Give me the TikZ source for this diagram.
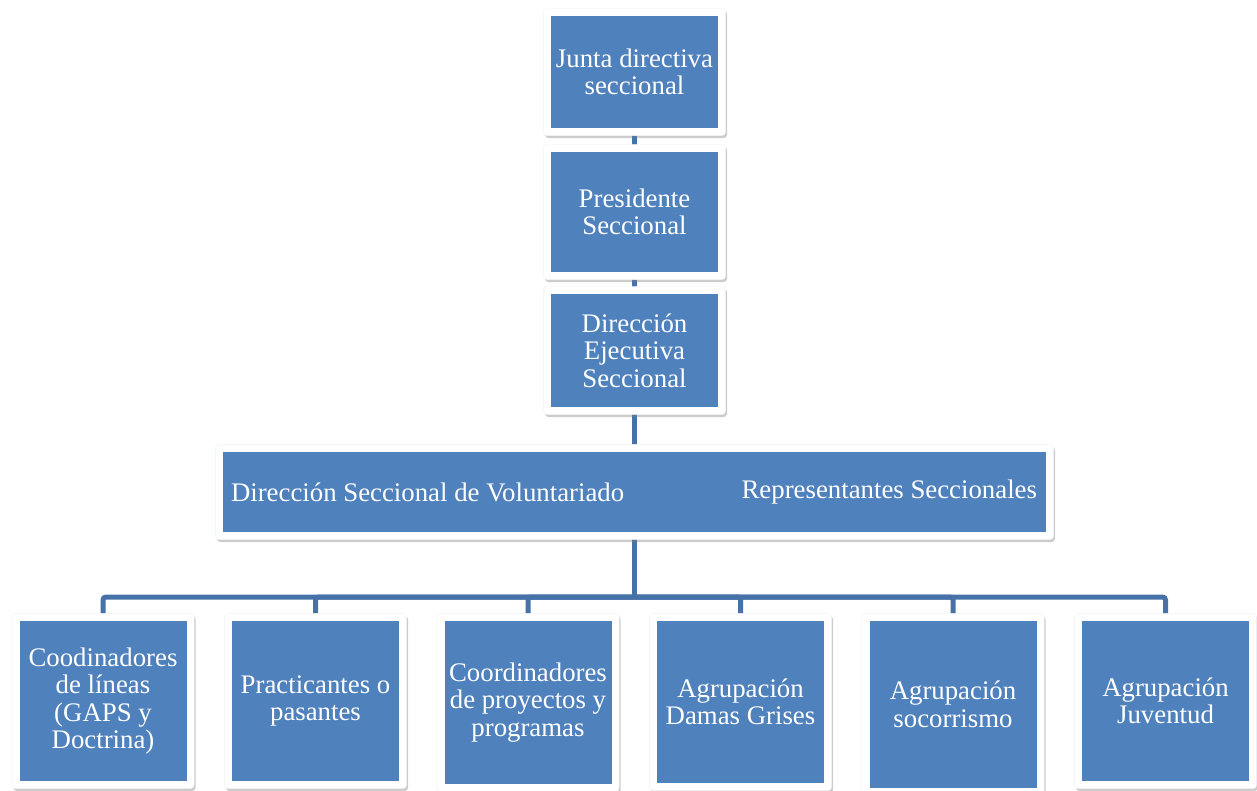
\documentclass[tikz,border=0pt]{standalone}
\usepackage{fontspec}
\setmainfont{Liberation Serif}
\usetikzlibrary{shadows}
\usetikzlibrary{fit}
\usetikzlibrary{backgrounds}

\definecolor{boxblue}{HTML}{4F81BD}
\definecolor{linkblue}{RGB}{71,114,168}

\tikzset{
    box/.style={fill=boxblue, text=white, align=center, inner sep=0pt,
        minimum width=167pt, font=\fontsize{26.8pt}{27.5pt}\selectfont},
    boxtext/.style={text=white, inner sep=0pt, font=\fontsize{26.8pt}{27.5pt}\selectfont},
    frame/.style={fill=white, draw=black!5, line width=0.4pt, rounded corners=4pt,
        inner sep=7.5pt, drop shadow={opacity=0.4, shadow xshift=1.5pt, shadow yshift=-2.5pt}},
    link/.style={draw=linkblue, line width=5pt, rounded corners=3pt}
}

\begin{document}
\begin{tikzpicture}[x=1pt, y=-1pt]
        \useasboundingbox (0, 0) rectangle (1257, 791);

        % upper chain
        \node[box, minimum height=112pt] (junta) at (634.5, 72) {Junta directiva\\seccional};
        \node[box, minimum height=120pt] (presidente) at (634.5, 212) {Presidente\\Seccional};
        \node[box, minimum height=113pt] (direjec) at (634.5, 350.5) {Dirección\\Ejecutiva\\Seccional};

        % wide box
        \node[box, minimum width=823pt, minimum height=80pt] (voluntariado) at (634.5, 492) {};
        \node[boxtext, anchor=west] (dsv) at ([xshift=8pt]voluntariado.west) {Dirección Seccional de Voluntariado};
        \node[boxtext, anchor=east] (repres) at ([xshift=-9pt]voluntariado.east) {Representantes Seccionales};

        % lower row
        \node[box, minimum height=160pt] (coodin) at (103, 701) {Coodinadores\\de líneas\\(GAPS y\\Doctrina)};
        \node[box, minimum height=160pt] (practic) at (315.5, 701) {Practicantes o\\pasantes};
        \node[box, minimum height=163pt] (proyect) at (528, 702.5) {Coordinadores\\de proyectos y\\programas};
        \node[box, minimum height=162pt] (damas) at (740.5, 702) {Agrupación\\Damas Grises};
        \node[box, minimum height=167pt] (socorr) at (953, 704.5) {Agrupación\\socorrismo};
        \node[box, minimum height=160pt] (juventud) at (1165.5, 701) {Agrupación\\Juventud};

        \coordinate (bus) at (634.5, 597);

        \begin{scope}[on background layer]
            \draw[link] (junta) -- (presidente) -- (direjec) -- (voluntariado);
            \draw[link] (voluntariado) -- (bus);
            \foreach \n in {coodin, practic, proyect, damas, socorr, juventud}
                \draw[link] (bus) -| (\n);

            \foreach \n in {junta, presidente, direjec, voluntariado,
                coodin, practic, proyect, damas, socorr, juventud}
                \node[frame, fit=(\n)] (f-\n) {};
        \end{scope}
    \end{tikzpicture}
\end{document}
